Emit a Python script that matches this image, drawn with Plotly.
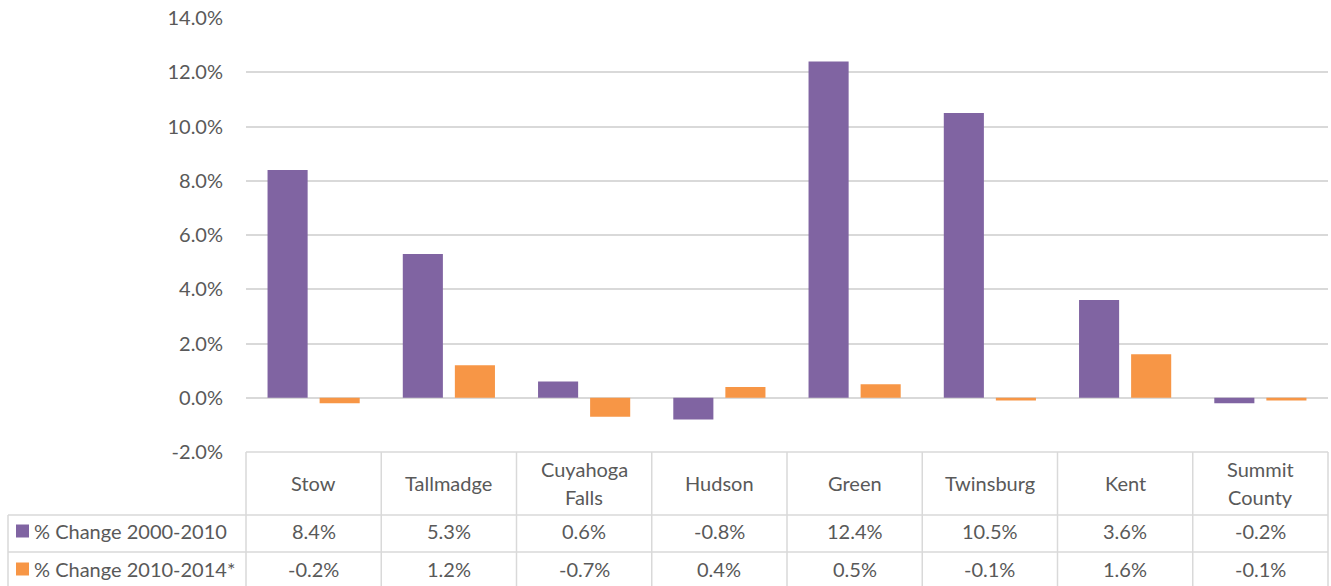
import plotly.graph_objects as go

# Population change by community
places = ["Stow", "Tallmadge", "Cuyahoga<br>Falls", "Hudson", "Green",
          "Twinsburg", "Kent", "Summit<br>County"]
series_names = ["% Change 2000-2010", "% Change 2010-2014*"]
change_2000_2010 = [8.4, 5.3, 0.6, -0.8, 12.4, 10.5, 3.6, -0.2]
change_2010_2014 = [-0.2, 1.2, -0.7, 0.4, 0.5, -0.1, 1.6, -0.1]
series_values = [change_2000_2010, change_2010_2014]
series_colors = ["#8064A2", "#F79646"]
y_ticks = [-2, 0, 2, 4, 6, 8, 10, 12, 14]

W, H = 1331, 586
ML, MR, MT, MB = 246, 3, 18, 134
PW, PH = W - ML - MR, H - MT - MB
TEXT = "#595959"
LINE = "#D9D9D9"
FONT = "Lato"


def px_x(px):
    return (px - ML) / PW


def px_y(py):
    return (H - MB - py) / PH


def label(x, xref, py, text, anchor="center"):
    return dict(x=x, xref=xref, y=px_y(py), yref="paper", text=text,
                showarrow=False, xanchor=anchor, yanchor="middle",
                font=dict(family=FONT, size=20, color=TEXT))


fig = go.Figure()
for name, vals, col in zip(series_names, series_values, series_colors):
    fig.add_trace(go.Bar(x=list(range(len(places))), y=vals, name=name,
                         marker=dict(color=col, line=dict(width=0))))

n = len(places)
cell_w = 1.0 / n
shapes = []
annotations = []
line_style = dict(color=LINE, width=1.5)

# data table: header row, then one row per series
header_top, row1_top, row2_top, table_bottom = 452, 515, 552, 586
shapes.append(dict(type="line", xref="paper", yref="paper",
                   x0=0, x1=1, y0=px_y(header_top), y1=px_y(header_top), line=line_style))
for rt in (row1_top, row2_top):
    shapes.append(dict(type="line", xref="paper", yref="paper",
                       x0=px_x(8), x1=1, y0=px_y(rt), y1=px_y(rt), line=line_style))
for i in range(n + 1):
    shapes.append(dict(type="line", xref="paper", yref="paper",
                       x0=i * cell_w, x1=i * cell_w,
                       y0=px_y(header_top), y1=px_y(table_bottom), line=line_style))
shapes.append(dict(type="line", xref="paper", yref="paper",
                   x0=px_x(8), x1=px_x(8), y0=px_y(row1_top), y1=px_y(table_bottom),
                   line=line_style))

header_mid = 483
line_step = 28
for i, p in enumerate(places):
    parts = p.split("<br>")
    first = header_mid - line_step * (len(parts) - 1) / 2
    for k, part in enumerate(parts):
        annotations.append(label(i, "x", first + k * line_step, part))

row_centers = [531, 569]
for name, vals, col, yc in zip(series_names, series_values, series_colors, row_centers):
    shapes.append(dict(type="rect", xref="paper", yref="paper",
                       x0=px_x(16), x1=px_x(29), y0=px_y(yc - 6.5), y1=px_y(yc + 6.5),
                       fillcolor=col, line=dict(width=0)))
    annotations.append(label(px_x(32), "paper", yc, name, anchor="left"))
    for i, v in enumerate(vals):
        annotations.append(label(i, "x", yc, f"{v:.1f}%"))

fig.update_layout(
    width=W, height=H,
    margin=dict(l=ML, r=MR, t=MT, b=MB, pad=0),
    paper_bgcolor="white", plot_bgcolor="white",
    barmode="group", bargap=0.23, bargroupgap=0.23,
    showlegend=False,
    shapes=shapes, annotations=annotations,
    font=dict(family=FONT, size=20, color=TEXT),
    xaxis=dict(range=[-0.5, n - 0.5], showticklabels=False, showgrid=False,
               zeroline=False, showline=False, ticks=""),
    yaxis=dict(range=[-2, 14], tickmode="array", tickvals=y_ticks,
               ticktext=[f"{v:.1f}%" for v in y_ticks],
               showgrid=True, gridcolor=LINE, gridwidth=1.5,
               zeroline=True, zerolinecolor=LINE, zerolinewidth=1.5,
               showline=False, ticks="", ticklabelstandoff=22,
               tickfont=dict(family=FONT, size=20, color=TEXT)),
)

fig.write_html("out.html")
